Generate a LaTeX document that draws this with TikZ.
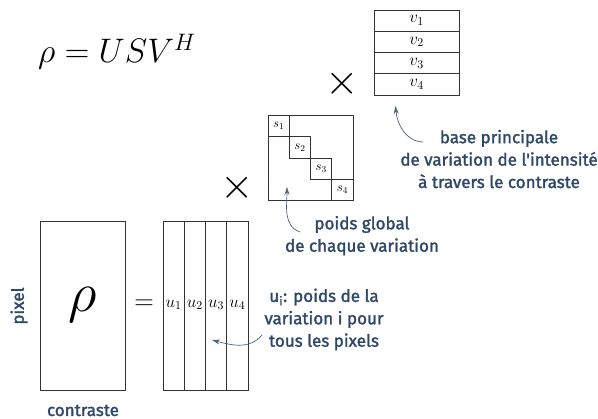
\RequirePackage{fix-cm}
\documentclass[tikz,border=0pt]{standalone}
\usepackage{fontspec}
\newfontfamily\firasans{Fira Sans}[FakeBold=1.7]
\usetikzlibrary{arrows.meta}
\definecolor{lblue}{HTML}{2D4869}
\begin{document}
\begin{tikzpicture}[x=1pt,y=1pt,
  mat/.style={draw=black!80, line width=0.9pt},
  lbl/.style={text=lblue, font=\firasans\fontsize{17}{22.4}\selectfont, align=center, inner sep=0pt},
  arr/.style={draw=lblue!85, line width=0.7pt, -{Stealth[length=8pt,width=5pt]}},
  ucelltext/.style={inner sep=0pt, font=\fontsize{17}{20}\selectfont},
  scelltext/.style={inner sep=0pt, font=\fontsize{13}{16}\selectfont},
  bigsym/.style={inner sep=0pt, font=\fontsize{43}{43}\selectfont},
]
\useasboundingbox (0,0) rectangle (598,419);

% formula
\node[anchor=base west, inner sep=0pt, font=\fontsize{34}{40}\selectfont] (formula) at (38,356) {$\rho = USV^H$};

% rho matrix
\draw[mat] (40,29) rectangle (125,198);
\node[inner sep=0pt, font=\fontsize{56}{60}\selectfont] (rho) at (83,114) {$\rho$};
\node[lbl, rotate=90] (pixel) at (19,113) {pixel};
\node[lbl, anchor=base] (contraste) at (83,3) {contraste};

% equals
\node[inner sep=0pt, font=\fontsize{27}{30}\selectfont] (eq) at (144,114) {$=$};

% U matrix
\draw[mat] (163,29) rectangle (248,198);
\foreach \i in {1,2,3} \draw[mat] (163+21.25*\i,29) -- (163+21.25*\i,198);
\foreach \i in {1,...,4}
  \node[ucelltext] (u\i) at (163+21.25*\i-10.625,114) {$u_{\i}$};

% times 1
\node[bigsym] (times1) at (237,231) {$\times$};

% S matrix
\draw[mat] (268,218.5) rectangle (353,303.5);
\foreach \i in {1,...,4} {
  \draw[mat] (268+21.25*\i-21.25,303.5-21.25*\i+21.25) rectangle (268+21.25*\i,303.5-21.25*\i);
  \node[scelltext] (s\i) at (268+21.25*\i-10.625,303.5-21.25*\i+10.625) {$s_{\i}$};
}

% times 2
\node[bigsym] (times2) at (342,335) {$\times$};

% V matrix
\draw[mat] (374,324) rectangle (459,409);
\foreach \i in {1,2,3} \draw[mat] (374,409-21.25*\i) -- (459,409-21.25*\i);
\foreach \i in {1,...,4}
  \node[ucelltext] (v\i) at (416.5,409-21.25*\i+10.625) {$v_{\i}$};

% labels (base = baseline of last line)
\node[lbl, anchor=base] (lv) at (499,231) {base principale\\de variation de l'intensité\\à travers le contraste};
\node[lbl, anchor=base] (ls) at (362,167.3) {poids global\\de chaque variation};
\node[lbl, anchor=base] (lu) at (324,72.3) {u\textsubscript{i}: poids de la\\variation i pour\\tous les pixels};

% arrows
\coordinate (av0) at (423,277);
\coordinate (av1) at (395.5,313);
\coordinate (as0) at (300,187);
\coordinate (as1) at (287,232);
\coordinate (au0) at (262,84);
\coordinate (au1) at (212,79);
\draw[arr] (av0) to[out=178, in=-85] (av1);
\draw[arr] (as0) to[out=160, in=-90] (as1);
\draw[arr] (au0) to[out=-130, in=-15] (au1);
\end{tikzpicture}
\end{document}
